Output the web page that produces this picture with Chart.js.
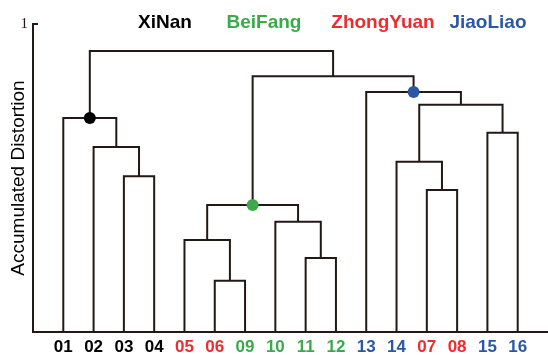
<!DOCTYPE html>
<html>
<head>
<meta charset="utf-8">
<script src="https://cdn.jsdelivr.net/npm/chart.js@4.4.0/dist/chart.umd.min.js"></script>
<style>
  html, body { margin: 0; padding: 0; background: #fff; }
  #wrap { width: 548px; height: 355px; position: relative; }
</style>
</head>
<body>
<div id="wrap"><canvas id="dendro"></canvas></div>
<script>
// leaves in drawing order
const leafLabels = ['01', '02', '03', '04', '05', '06', '09', '10', '11', '12', '13', '14', '07', '08', '15', '16'];
const leafGroups = [0, 0, 0, 0, 2, 2, 1, 1, 1, 1, 3, 3, 2, 2, 3, 3];
const groupNames = ['XiNan', 'BeiFang', 'ZhongYuan', 'JiaoLiao'];
const groupColors = ['#000000', '#3aaa4b', '#ee2b2f', '#2a58a7'];

// merges: [left, right, height]; ids 0-15 are leaves, 16+ are merges in order
const mergeLeft = [2, 1, 0, 5, 4, 8, 7, 20, 12, 11, 14, 25, 10, 23, 18];
const mergeRight = [3, 16, 17, 6, 19, 9, 21, 22, 13, 24, 15, 26, 27, 28, 29];
const mergeHeight = [0.506, 0.601, 0.695, 0.166, 0.299, 0.24, 0.358, 0.412, 0.461, 0.553, 0.647, 0.738, 0.779, 0.83, 0.912];

// nodes marked with a dot, one per group
const markedNodes = [18, 23, 28];
const markedGroups = [0, 1, 3];

const lineColor = '#231815';
const nLeaf = leafLabels.length;

// node positions
const nodeX = leafLabels.map((_, i) => i + 1);
const nodeY = leafLabels.map(() => 0);
const links = [];
mergeLeft.forEach((a, k) => {
  const b = mergeRight[k];
  const h = mergeHeight[k];
  links.push({
    type: 'line',
    data: [
      { x: nodeX[a], y: nodeY[a] },
      { x: nodeX[a], y: h },
      { x: nodeX[b], y: h },
      { x: nodeX[b], y: nodeY[b] }
    ],
    borderColor: lineColor,
    borderWidth: 2,
    pointRadius: 0,
    tension: 0,
    fill: false,
    order: 2
  });
  nodeX.push((nodeX[a] + nodeX[b]) / 2);
  nodeY.push(h);
});

const dots = {
  type: 'scatter',
  data: markedNodes.map(id => ({ x: nodeX[id], y: nodeY[id] })),
  pointRadius: 6,
  pointHoverRadius: 6,
  pointBackgroundColor: markedGroups.map(g => groupColors[g]),
  pointBorderWidth: 0,
  order: 1
};

// group names along the top
const groupTitles = {
  id: 'groupTitles',
  afterDraw(chart) {
    const c = chart.ctx;
    const xs = [165, 264, 383, 488];
    c.save();
    c.font = "bold 19px 'Liberation Sans', Arial, sans-serif";
    c.textAlign = 'center';
    c.textBaseline = 'middle';
    groupNames.forEach((name, i) => {
      c.fillStyle = groupColors[i];
      c.fillText(name, xs[i], 23);
    });
    // inner tick at y = 1
    const y = chart.scales.y;
    const py = y.getPixelForValue(1);
    c.strokeStyle = lineColor;
    c.lineWidth = 2;
    c.beginPath();
    c.moveTo(y.right - 1, py);
    c.lineTo(y.right + 5, py);
    c.stroke();
    c.restore();
  }
};

new Chart(document.getElementById('dendro'), {
  type: 'line',
  data: { datasets: [...links, dots] },
  options: {
    responsive: true,
    maintainAspectRatio: false,
    animation: false,
    layout: { autoPadding: false, padding: { top: 24, left: 0, right: 0, bottom: 0 } },
    plugins: {
      legend: { display: false },
      tooltip: { enabled: false }
    },
    scales: {
      x: {
        type: 'linear',
        min: 0,
        max: nLeaf + 1,
        grid: { display: false, drawTicks: false },
        border: { display: true, color: lineColor, width: 2 },
        afterBuildTicks: (s) => { s.ticks = leafLabels.map((_, i) => ({ value: i + 1 })); },
        afterFit: (s) => { s.paddingLeft = 0; s.paddingRight = 0; s.height = 23; },
        ticks: {
          autoSkip: false,
          maxRotation: 0,
          padding: 5,
          callback: (v) => leafLabels[v - 1],
          color: (ctx) => groupColors[leafGroups[ctx.index]],
          font: { size: 17, weight: 'bold', family: "'Liberation Sans', Arial, sans-serif" }
        }
      },
      y: {
        type: 'linear',
        min: 0,
        max: 1,
        grid: { display: false, drawTicks: false },
        border: { display: true, color: lineColor, width: 2 },
        afterBuildTicks: (s) => { s.ticks = [{ value: 1 }]; },
        afterFit: (s) => { s.width = 33; },
        ticks: {
          padding: 5,
          color: '#231815',
          callback: (v) => String(v),
          font: { size: 15, family: "'Liberation Serif', 'Times New Roman', serif" }
        },
        title: {
          display: true,
          text: 'Accumulated Distortion',
          color: '#000',
          padding: { top: 7, bottom: 0 },
          font: { size: 19, family: "'Liberation Sans', Arial, sans-serif" }
        }
      }
    }
  },
  plugins: [groupTitles]
});
</script>
</body>
</html>
